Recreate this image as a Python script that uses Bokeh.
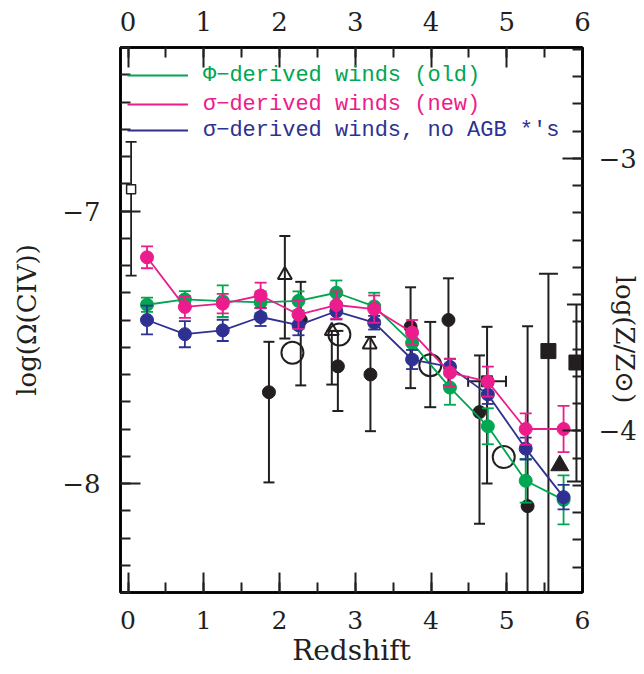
import numpy as np
from bokeh.plotting import figure
from bokeh.models import (Range1d, LinearAxis, SingleIntervalTicker, Legend,
                          LegendItem)
from bokeh.embed import file_html
from bokeh.resources import INLINE

# ---------------- data ----------------
z_sim = [0.25, 0.75, 1.25, 1.75, 2.25, 2.75, 3.25, 3.75, 4.25, 4.75, 5.25, 5.75]

green_y = [-7.344, -7.324, -7.331, -7.335, -7.330, -7.300, -7.350, -7.484, -7.648, -7.790, -7.990, -8.060]
green_err = [0.026, 0.030, 0.058, 0.040, 0.035, 0.045, 0.050, 0.050, 0.063, 0.066, 0.080, 0.090]

pink_y = [-7.170, -7.352, -7.340, -7.310, -7.380, -7.345, -7.360, -7.446, -7.593, -7.626, -7.800, -7.800]
pink_err = [0.040, 0.040, 0.036, 0.047, 0.053, 0.050, 0.050, 0.046, 0.050, 0.055, 0.057, 0.085]

blue_y = [-7.400, -7.452, -7.438, -7.389, -7.419, -7.368, -7.410, -7.545, -7.572, -7.673, -7.872, -8.050]
blue_err = [0.053, 0.048, 0.039, 0.033, 0.037, 0.030, 0.025, 0.035, 0.030, 0.035, 0.040, 0.045]

# observations: filled circles
obs_c_x = [1.86, 2.28, 2.77, 3.20, 3.73, 4.23, 4.64, 5.275]
obs_c_y = [-7.665, -7.400, -7.570, -7.600, -7.425, -7.400, -7.738, -8.083]
obs_c_hi = [-7.480, -7.260, -7.440, -7.462, -7.280, -7.247, -7.530, -7.423]
obs_c_lo = [-7.996, -7.640, -7.734, -7.808, -7.650, -7.640, -8.148, -8.600]

# open circles
obs_oc_x = [2.17, 2.79, 3.99, 4.96]
obs_oc_y = [-7.520, -7.453, -7.566, -7.903]
obs_oc_bar_x = [3.99]
obs_oc_hi = [-7.407]
obs_oc_lo = [-7.720]

# open triangles
obs_ot_x = [2.07, 2.69, 3.19]
obs_ot_y = [-7.235, -7.440, -7.490]
obs_ot_bar_x = [2.07, 2.69]
obs_ot_hi = [-7.092, -7.440]
obs_ot_lo = [-7.468, -7.637]

# filled squares
obs_s_x = [5.55, 5.92]
obs_s_y = [-7.514, -7.556]
obs_s_hi = [-7.230, -7.343]
obs_s_lo = [-8.600, -7.993]

# square with horizontal error bar
obs_h_x = [4.74]
obs_h_y = [-7.625]
obs_h_hi = [-7.425]
obs_h_lo = [-8.000]
obs_h_xlo = [4.49]
obs_h_xhi = [4.99]

# filled triangle
obs_t_x = [5.70]
obs_t_y = [-7.934]

# open square (z ~ 0)
obs_os_x = [0.04]
obs_os_y = [-6.920]
obs_os_hi = [-6.746]
obs_os_lo = [-7.237]

y_left_labels = {-7: "\u22127", -8: "\u22128"}
y_right_labels = {-3: "\u22123", -4: "\u22124"}

legend_labels = ["\u03a6\u2212derived winds (old)",
                 "\u03c3\u2212derived winds (new)",
                 "\u03c3\u2212derived winds, no AGB *'s"]

GREEN = "#00a651"
PINK = "#ec1c8c"
BLUE = "#2e3192"
BLACK = "#231f20"

SERIF = "DejaVu Serif"

p = figure(width=644, height=674,
           x_range=Range1d(-0.1, 6.0), y_range=Range1d(-8.4, -6.4),
           output_backend="svg", toolbar_location=None,
           x_axis_location=None, y_axis_location=None,
           min_border_left=120, min_border_right=62,
           min_border_top=47, min_border_bottom=82)
p.extra_y_ranges = {"z": Range1d(-8.4 + 3.807, -6.4 + 3.807)}
p.xgrid.visible = False
p.ygrid.visible = False
p.outline_line_color = "black"
p.outline_line_width = 2.5
p.background_fill_color = "white"
p.border_fill_color = "white"


def style_axis(ax, standoff, size="26px"):
    ax.major_tick_in = 20
    ax.major_tick_out = 0
    ax.minor_tick_in = 10
    ax.minor_tick_out = 0
    ax.major_tick_line_width = 2
    ax.minor_tick_line_width = 2
    ax.major_tick_line_color = BLACK
    ax.minor_tick_line_color = BLACK
    ax.axis_line_width = 2.5
    ax.axis_line_color = "black"
    ax.major_label_text_font = SERIF
    ax.major_label_text_font_size = size
    ax.major_label_text_color = BLACK
    ax.major_label_standoff = standoff
    ax.axis_label_text_font = SERIF
    ax.axis_label_text_font_style = "normal"
    ax.axis_label_text_color = BLACK


xb = LinearAxis(ticker=SingleIntervalTicker(interval=1, num_minor_ticks=2),
                axis_label="Redshift")
style_axis(xb, 18, "25px")
xb.axis_label_text_font_size = "28px"
xb.axis_label_standoff = 2
p.add_layout(xb, "below")

xt = LinearAxis(ticker=SingleIntervalTicker(interval=1, num_minor_ticks=2))
style_axis(xt, 17)
p.add_layout(xt, "above")

yl = LinearAxis(ticker=SingleIntervalTicker(interval=1, num_minor_ticks=10),
                axis_label="log(\u03a9(CIV))")
style_axis(yl, 20)
yl.major_label_overrides = y_left_labels
yl.axis_label_text_font_size = "26px"
yl.axis_label_standoff = 17
p.add_layout(yl, "left")

# right-hand label sits a little below the middle of the axis:
# a few leading en-spaces push the visible text down along the axis.
yr = LinearAxis(y_range_name="z",
                ticker=SingleIntervalTicker(interval=1, num_minor_ticks=10),
                axis_label="\u2002" * 3 + "log(Z/Z\u2299)")
style_axis(yr, 16)
yr.major_label_overrides = y_right_labels
yr.axis_label_text_font_size = "26px"
yr.axis_label_standoff = -30
p.add_layout(yr, "right")


def vbars(x, hi, lo, color, cap, lw=2):
    p.segment(x0=x, y0=lo, x1=x, y1=hi, line_color=color, line_width=lw)
    p.scatter(x, hi, marker="dash", size=cap, line_color=color, line_width=lw)
    p.scatter(x, lo, marker="dash", size=cap, line_color=color, line_width=lw)


# ---- observational points ----
vbars(obs_os_x, obs_os_hi, obs_os_lo, BLACK, 11, 1.8)
p.scatter(obs_os_x, obs_os_y, marker="square", size=9, fill_color="white",
          line_color=BLACK, line_width=1.5)

vbars(obs_c_x, obs_c_hi, obs_c_lo, BLACK, 11)
vbars(obs_oc_bar_x, obs_oc_hi, obs_oc_lo, BLACK, 12)
vbars(obs_ot_bar_x, obs_ot_hi, obs_ot_lo, BLACK, 11)
vbars(obs_s_x, obs_s_hi, obs_s_lo, BLACK, 19)
vbars(obs_h_x, obs_h_hi, obs_h_lo, BLACK, 11)
p.segment(x0=obs_h_xlo, y0=obs_h_y, x1=obs_h_xhi, y1=obs_h_y,
          line_color=BLACK, line_width=2)
p.scatter(obs_h_xlo + obs_h_xhi, obs_h_y + obs_h_y, marker="dash", angle=np.pi / 2,
          size=11, line_color=BLACK, line_width=2)

p.scatter(obs_c_x, obs_c_y, marker="circle", size=13, fill_color=BLACK,
          line_color=BLACK)
p.scatter(obs_oc_x, obs_oc_y, marker="circle", size=22, fill_color=None,
          line_color=BLACK, line_width=2)
p.scatter(obs_ot_x, obs_ot_y, marker="triangle", size=14, fill_color="white",
          fill_alpha=0, line_color=BLACK, line_width=2)
p.scatter(obs_s_x, obs_s_y, marker="square", size=15, fill_color=BLACK,
          line_color=BLACK)
p.scatter(obs_h_x, obs_h_y, marker="square", size=11, fill_color=BLACK,
          line_color=BLACK)
p.scatter(obs_t_x, obs_t_y, marker="triangle", size=18, fill_color=BLACK,
          line_color=BLACK)


# ---- simulation series ----
def series(y, err, color):
    ln = p.line(z_sim, y, line_color=color, line_width=1.8)
    hi = [a + e for a, e in zip(y, err)]
    lo = [a - e for a, e in zip(y, err)]
    vbars(z_sim, hi, lo, color, 12, 1.8)
    p.scatter(z_sim, y, marker="circle", size=13, fill_color=color,
              line_color=color)
    return ln


ln_green = series(green_y, green_err, GREEN)
ln_blue = series(blue_y, blue_err, BLUE)
ln_pink = series(pink_y, pink_err, PINK)

# ---- legend (one per row, each with its own colour) ----
for label, ln, color, ypos in zip(legend_labels, [ln_green, ln_pink, ln_blue],
                                  [GREEN, PINK, BLUE], [504, 475, 449]):
    lg = Legend(items=[LegendItem(label=label, renderers=[ln])],
                location=(7, ypos), padding=0, margin=0, spacing=0,
                glyph_width=61, glyph_height=26, label_height=26,
                label_standoff=15, label_text_font="Liberation Mono",
                label_text_font_size="22px", label_text_color=color,
                border_line_alpha=0, background_fill_alpha=0)
    p.add_layout(lg, "center")

open("out.html", "w").write(file_html(p, INLINE))
